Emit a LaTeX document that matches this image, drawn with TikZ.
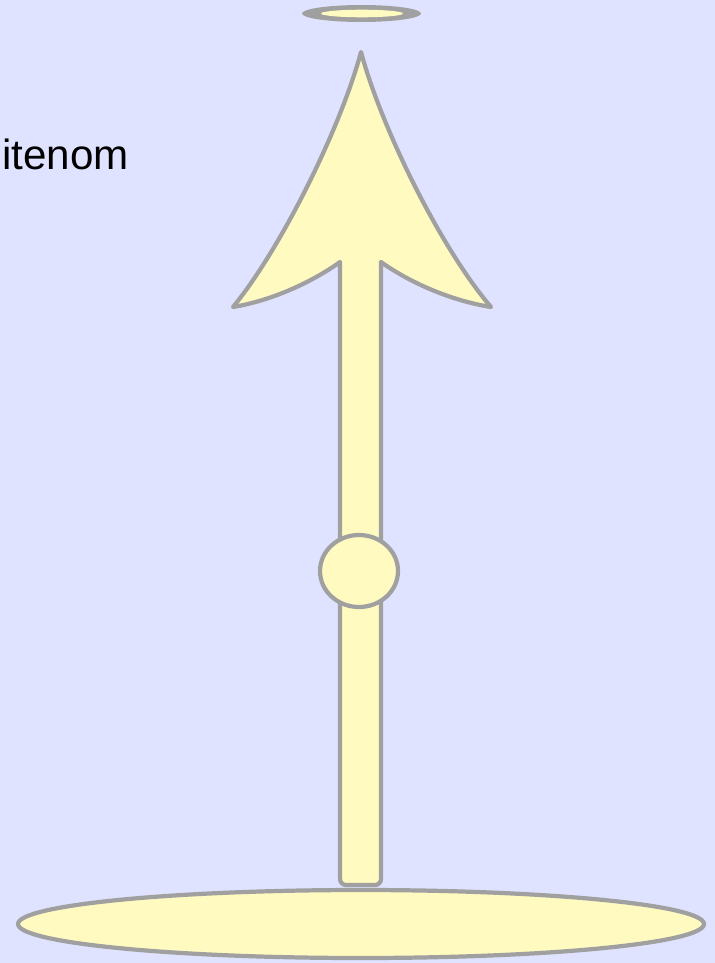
\documentclass[tikz,border=0pt]{standalone}
\usepackage{fontspec}
\setmainfont{Liberation Sans}
\usepackage{tikz}
\usetikzlibrary{calc}
\definecolor{skyback}{RGB}{224,227,255}
\definecolor{paleyellow}{RGB}{255,250,192}
\definecolor{rimgray}{RGB}{160,160,160}
\tikzset{
    part/.style={fill=paleyellow, draw=rimgray, line width=2.4pt, line join=round},
}

\begin{document}
\begin{tikzpicture}[x=0.02cm, y=-0.02cm]
    \fill[skyback] (0,0) rectangle (715,963);
    \useasboundingbox (0,0) rectangle (715,963);

    \node[anchor=base west, inner sep=0pt, font=\fontsize{24}{28}\selectfont] (word) at (2,169) {itenom};

    % halo
    \fill[rimgray] (361.5,13.5) ellipse [x radius=59.5, y radius=8.5];
    \fill[paleyellow] (362,13.5) ellipse [x radius=41, y radius=3.8];

    % base plate
    \draw[part] (361,924) ellipse [x radius=343, y radius=34];

    % shaft and head
    \coordinate (notchL) at (340,262);
    \coordinate (notchR) at (381,262);
    \coordinate (tip) at (361,52);
    \coordinate (wingL) at (233,307);
    \coordinate (wingR) at (491,307);
    \draw[part] (notchL) -- (340,879) to[out=-90, in=180] (346,885) -- (375,885)
        to[out=0, in=-90] (381,879) -- (notchR)
        .. controls (406,280) and (447,300) .. (wingR)
        .. controls (442,250) and (382,130) .. (tip)
        .. controls (340,130) and (280,250) .. (wingL)
        .. controls (275,300) and (315,280) .. (notchL) -- cycle;

    % joint
    \draw[part] (359,571) ellipse [x radius=39, y radius=36];
\end{tikzpicture}
\end{document}
